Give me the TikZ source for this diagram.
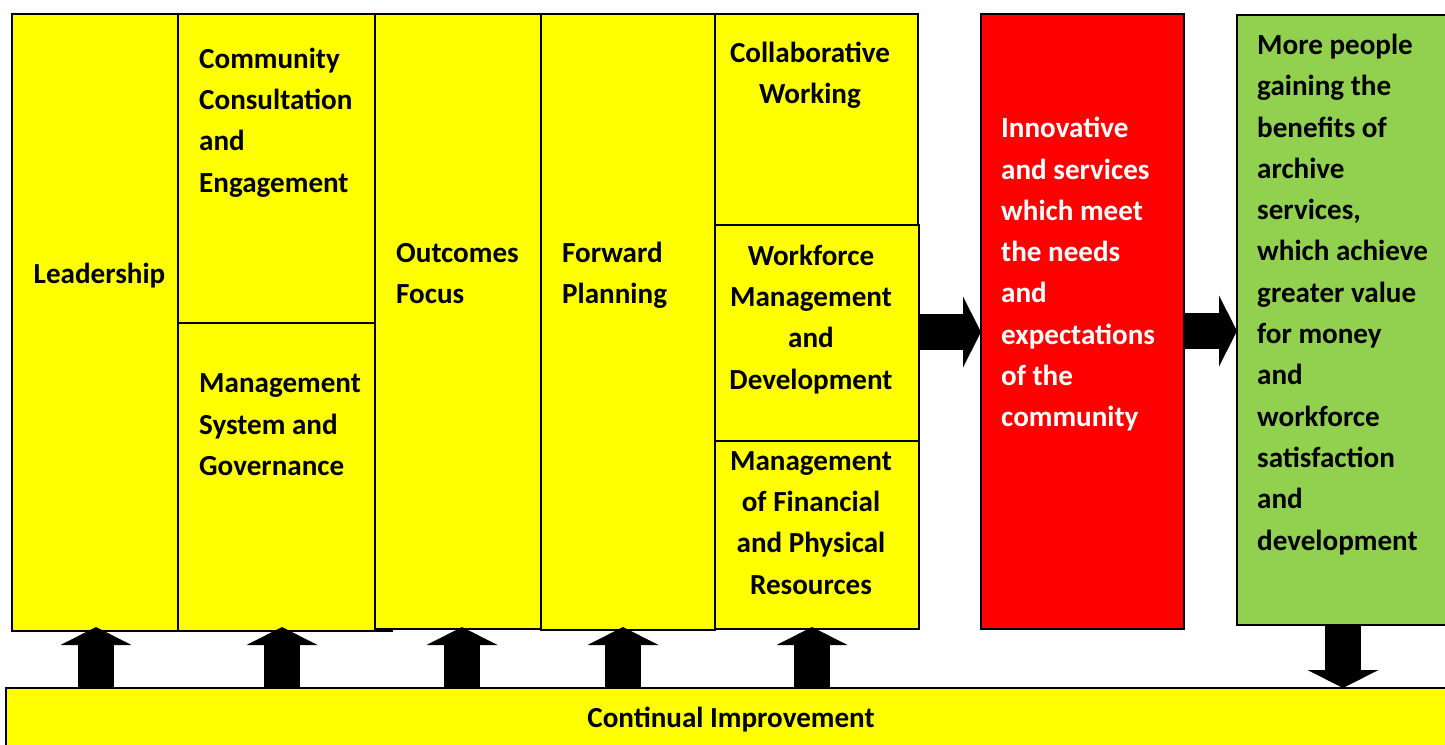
\documentclass[tikz,border=0pt]{standalone}
\usepackage{fontspec}
\setmainfont{Carlito}
\usetikzlibrary{arrows.meta}
\definecolor{ybox}{HTML}{FFFF00}
\definecolor{rbox}{HTML}{FF0000}
\definecolor{gbox}{HTML}{92D050}
\begin{document}
\begin{tikzpicture}[x=1pt,y=-1pt,
  box/.style={draw=black, line width=1.5pt, anchor=north west, inner sep=0pt, outer sep=0pt},
  txt/.style={font=\fontsize{29.1}{41.3}\selectfont\bfseries, inner sep=0pt},
  blk/.style={line width=36pt, draw=black, -{Triangle[width=71pt,length=18pt,line width=0pt]}}
]
\useasboundingbox (0,0) rectangle (1445,744);
\clip (0,0) rectangle (1445,744);
% boxes
\node[box, fill=ybox, minimum width=166pt, minimum height=617pt] (lead) at (12,14) {};
\node[box, fill=ybox, minimum width=197pt, minimum height=309pt] (comm) at (178,14) {};
\node[box, fill=ybox, minimum width=214pt, minimum height=308pt] (mgmt) at (178,323) {};
\node[box, fill=ybox, minimum width=166pt, minimum height=615pt] (outc) at (375,14) {};
\node[box, fill=ybox, minimum width=174pt, minimum height=616pt] (fwd) at (541,14) {};
\node[box, fill=ybox, minimum width=203pt, minimum height=211pt] (collab) at (715,14) {};
\node[box, fill=ybox, minimum width=204pt, minimum height=216pt] (work) at (715,225) {};
\node[box, fill=ybox, minimum width=204pt, minimum height=188pt] (fin) at (715,441) {};
\node[box, fill=rbox, minimum width=203pt, minimum height=615pt] (red) at (981,14) {};
\node[box, fill=gbox, minimum width=220pt, minimum height=610pt] (green) at (1237,15) {};
\node[box, fill=ybox, minimum width=1450pt, minimum height=70pt] (bar) at (6,688) {};
% texts
\node[txt] (tLead) at (99.5,275) {\strut Leadership\strut};
\node[txt, anchor=west, align=left] (tComm) at (199,122) {\strut Community\\Consultation\\and\\Engagement\strut};
\node[txt, anchor=west, align=left] (tMgmt) at (199,426) {\strut Management\\System and\\Governance\strut};
\node[txt, anchor=west, align=left] (tOutc) at (396,275) {\strut Outcomes\\Focus\strut};
\node[txt, anchor=west, align=left] (tFwd) at (562,275) {\strut Forward\\Planning\strut};
\node[txt, align=center] (tCollab) at (810,75) {\strut Collaborative\\Working\strut};
\node[txt, align=center] (tWork) at (811,319) {\strut Workforce\\Management\\and\\Development\strut};
\node[txt, align=center] (tFin) at (811,524) {\strut Management\\of Financial\\and Physical\\Resources\strut};
\node[txt, anchor=west, align=left, text=white] (tRed) at (1001,274) {\strut Innovative\\and services\\which meet\\the needs\\and\\expectations\\of the\\community\strut};
\node[txt, anchor=west, align=left] (tGreen) at (1257,294) {\strut More people\\gaining the\\benefits of\\archive\\services,\\which achieve\\greater value\\for money\\and\\workforce\\satisfaction\\and\\development\strut};
\node[txt] (tBar) at (731,719) {\strut Continual Improvement\strut};
% arrow end points
\coordinate (u1s) at (96,688);  \coordinate (u1e) at (96,627);
\coordinate (u2s) at (282,688); \coordinate (u2e) at (282,627);
\coordinate (u3s) at (462,688); \coordinate (u3e) at (462,627);
\coordinate (u4s) at (623,688); \coordinate (u4e) at (623,627);
\coordinate (u5s) at (812,688); \coordinate (u5e) at (812,627);
\coordinate (r1s) at (918,332); \coordinate (r1e) at (981,332);
\coordinate (r2s) at (1184,331); \coordinate (r2e) at (1237,331);
\coordinate (d1s) at (1343,625); \coordinate (d1e) at (1343,688);
\foreach \a in {u1,u2,u3,u4,u5,r1,r2,d1} {\draw[blk] (\a s) -- (\a e);}
\end{tikzpicture}
\end{document}
